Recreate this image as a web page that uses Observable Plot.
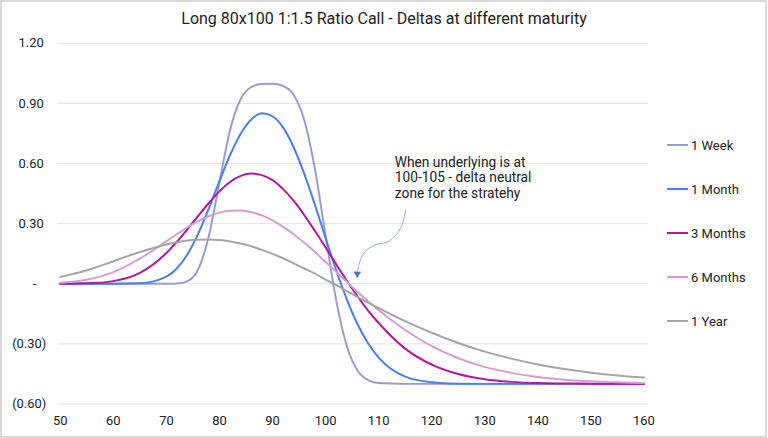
<!DOCTYPE html>
<html>
<head>
<meta charset="utf-8">
<script src="https://cdn.jsdelivr.net/npm/d3@7"></script>
<script src="https://cdn.jsdelivr.net/npm/@observablehq/plot@0.6"></script>
<style>
  body { margin: 0; background: #fff; font-family: Roboto, "Noto Sans", sans-serif; }
  #frame { position: relative; width: 767px; height: 438px; box-sizing: border-box; border: 2px solid #dadada; overflow: hidden; background: #fff; }
  #chart { position: absolute; left: -2px; top: -2px; }
  #title { position: absolute; left: -2px; top: 7px; width: 768px; text-align: center; font-size: 16px; color: #222; }
  .leg { position: absolute; left: 665px; display: flex; align-items: center; font-size: 13px; color: #222; height: 16px; }
  .leg span.sw { display: inline-block; width: 21px; height: 2px; margin-right: 3px; }
</style>
</head>
<body>
<div id="frame">
  <div id="chart"></div>
  <div id="title">Long 80x100 1:1.5 Ratio Call - Deltas at different maturity</div>
</div>
<script>
// Underlying price (x) grid
const spot = [50,55,60,65,70,72,74,76,78,80,82,84,86,88,90,92,94,96,98,100,102,104,106,108,110,115,120,125,130,135,140,145,150,155,160];

// Delta series
const week = [0,0,0,0,0,
  0.001,0.013,0.072,0.238,0.507,0.767,0.922,0.982,0.997,0.998,0.987,0.942,0.815,0.571,0.240,-0.083,-0.311,-0.433,-0.481,-0.496,
  -0.5,-0.5,-0.5,-0.5,-0.5,-0.5,-0.5,-0.5,-0.5,-0.5];
const month = [0,0,0,0.002,0.035,
  0.077,0.148,0.250,0.376,0.512,0.642,0.749,0.820,0.851,0.836,0.779,0.680,0.547,0.393,0.228,0.067,-0.078,-0.201,-0.297,-0.369,
  -0.464,-0.492,-0.499,-0.5,-0.5,-0.5,-0.5,-0.5,-0.5,-0.5];
const threeMonths = [0.000,0.002,0.013,0.054,0.153,
  0.210,0.273,0.339,0.403,0.461,0.508,0.538,0.550,0.542,0.517,0.472,0.413,0.342,0.263,0.181,0.097,0.015,-0.062,-0.134,-0.196,
  -0.324,-0.404,-0.451,-0.477,-0.490,-0.496,-0.498,-0.499,-0.5,-0.5];
const sixMonths = [0.005,0.020,0.058,0.125,0.212,
  0.248,0.282,0.313,0.337,0.355,0.364,0.365,0.357,0.341,0.316,0.284,0.247,0.204,0.158,0.109,0.059,0.009,-0.040,-0.087,-0.131,
  -0.231,-0.312,-0.372,-0.415,-0.445,-0.466,-0.479,-0.487,-0.492,-0.496];
const oneYear = [0.034,0.067,0.112,0.158,0.196,
  0.207,0.216,0.220,0.221,0.218,0.211,0.201,0.187,0.169,0.149,0.127,0.102,0.076,0.050,0.021,-0.007,-0.037,-0.066,-0.094,-0.121,
  -0.187,-0.245,-0.296,-0.339,-0.374,-0.403,-0.426,-0.444,-0.458,-0.468];

const seriesNames = ["1 Week","1 Month","3 Months","6 Months","1 Year"];
const seriesValues = [week, month, threeMonths, sixMonths, oneYear];
const seriesColors = ["#979dd2","#4b7df2","#b3179c","#d99cd0","#a5a5a5"];

const xTicks = [50,60,70,80,90,100,110,120,130,140,150,160];
const yTicks = [-0.6,-0.3,0,0.3,0.6,0.9,1.2];

const noteText = "When underlying is at\n100-105 - delta neutral\nzone for the stratehy";
const noteAnchor = {s: 113.05, d: 0.638};
const arrowPath = [
  {s:115.08, d:0.369},{s:114.2, d:0.280},{s:111.95, d:0.212},{s:109.5, d:0.195},{s:107.3, d:0.156},{s:106.3, d:0.096},{s:106.02, d:0.062}
];
const arrowHead = [{s:105.98, d:0.050}];

const rows = [];
seriesNames.forEach((name, k) => {
  seriesValues[k].forEach((v, i) => rows.push({series: name, s: spot[i], delta: v}));
});

function fmtY(v) {
  if (Math.abs(v) < 1e-9) return "-\u2007\u2009";
  if (v < 0) return "(" + (-v).toFixed(2) + ")";
  return v.toFixed(2) + "\u2009";
}

const plot = Plot.plot({
  width: 768, height: 438,
  marginLeft: 60, marginRight: 122, marginTop: 43, marginBottom: 33,
  style: {fontFamily: "Roboto, sans-serif", fontSize: "13px", color: "#222", background: "transparent"},
  x: {domain: [50, 160]},
  y: {domain: [-0.6, 1.2]},
  color: {domain: seriesNames, range: seriesColors},
  marks: [
    Plot.gridY(yTicks, {stroke: "#e2e2e2", strokeOpacity: 1, strokeWidth: 1, insetLeft: -2, insetRight: -5}),
    Plot.axisY(yTicks, {tickSize: 0, tickPadding: 14, tickFormat: fmtY, fontSize: 13, label: null}),
    Plot.axisX(xTicks, {tickSize: 0, tickPadding: 12, tickFormat: d => String(d), fontSize: 13, label: null}),
    Plot.line(rows, {x: "s", y: "delta", z: "series", stroke: "series", strokeWidth: 2, curve: "monotone-x"}),
    Plot.line(arrowPath, {x: "s", y: "d", stroke: "#8aabec", strokeWidth: 1, curve: "catmull-rom"}),
    Plot.dot(arrowHead, {x: "s", y: "d", symbol: "triangle", rotate: 182, r: 2.8, fill: "#4f76cf", stroke: "none"}),
    Plot.text([noteText], {x: () => noteAnchor.s, y: () => noteAnchor.d, text: d => d, textAnchor: "start", lineAnchor: "top", fontSize: 13.8, lineHeight: 1.13, fill: "#222"})
  ]
});
document.getElementById("chart").appendChild(plot);

const frame = document.getElementById("frame");
seriesNames.forEach((name, i) => {
  const el = document.createElement("div");
  el.className = "leg";
  el.style.top = (145 - 8 - 2 + i * 44) + "px";
  el.innerHTML = `<span class="sw" style="background:${seriesColors[i]}"></span><span>${name}</span>`;
  frame.appendChild(el);
});
</script>
</body>
</html>
